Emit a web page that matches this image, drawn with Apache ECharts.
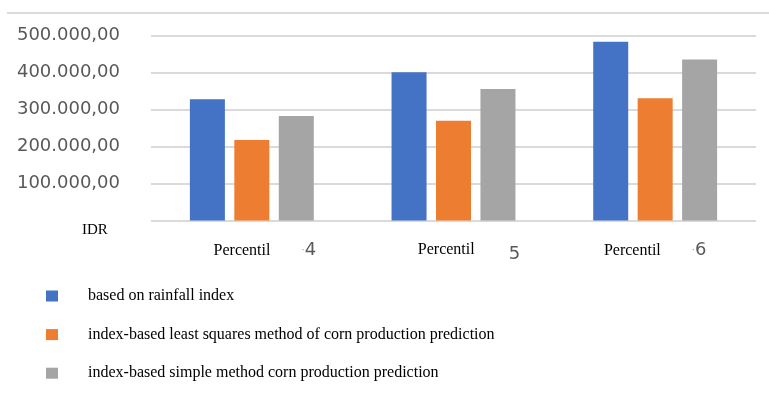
<!DOCTYPE html>
<html>
<head>
<meta charset="utf-8">
<script src="https://cdn.jsdelivr.net/npm/echarts@6/dist/echarts.min.js"></script>
<style>
  html, body { margin: 0; padding: 0; background: #fff; }
  #chart { width: 769px; height: 394px; }
</style>
</head>
<body>
<div id="chart"></div>
<script>
// Percentile groups on the x axis
const categories = ['Percentil 4', 'Percentil 5', 'Percentil 6'];

// Premium values (IDR) per calculation method
const rainfallIndex = [328000, 401000, 484000];
const leastSquaresIndex = [218000, 270000, 331000];
const simpleMethodIndex = [283000, 356000, 436000];

const seriesNames = [
  'based on rainfall index',
  'index-based least squares method of corn production prediction',
  'index-based simple method corn production prediction'
];

// Indonesian number format: 500.000,00
function idr(v) {
  const parts = Math.round(v).toString().replace(/\B(?=(\d{3})+(?!\d))/g, '.');
  return parts + ',00';
}

const chart = echarts.init(document.getElementById('chart'), null, { renderer: 'canvas' });

const serif = "'Liberation Serif', 'Times New Roman', serif";
const sans = "'DejaVu Sans', sans-serif";

chart.setOption({
  animation: false,
  color: ['#4472C4', '#ED7D31', '#A5A5A5'],
  grid: { left: 151, right: 13, top: 35.75, bottom: 173.5, containLabel: false },
  legend: {
    orient: 'vertical',
    left: 46,
    top: 288,
    padding: 0,
    icon: 'rect',
    itemWidth: 12,
    itemHeight: 11,
    itemGap: 22.6,
    data: seriesNames,
    formatter: name => '{g|}{t|' + name + '}',
    textStyle: {
      rich: {
        g: { width: 25 },
        t: { fontFamily: serif, fontSize: 16, color: '#000', lineHeight: 17 }
      }
    }
  },
  xAxis: {
    type: 'category',
    data: categories,
    axisLine: { show: false },
    axisTick: { show: false },
    axisLabel: {
      margin: 21,
      interval: 0,
      formatter: (value, idx) => {
        const num = value.split(' ')[1];
        const dot = idx === 1 ? '' : '{d|·}';
        return '{p' + idx + '|Percentil}' + dot + '{n' + idx + '|' + num + '}';
      },
      rich: {
        p0: { fontFamily: serif, fontSize: 16, color: '#000', padding: [0, 0, 0, 26] },
        p1: { fontFamily: serif, fontSize: 16, color: '#000', padding: [0, 0, 10, 31] },
        p2: { fontFamily: serif, fontSize: 16, color: '#000', padding: [0, 0, 0, 0] },
        d: { fontFamily: sans, fontSize: 10, color: '#9a9a9a', padding: [0, 0, 0, 31] },
        n0: { fontFamily: sans, fontSize: 18, color: '#595959' },
        n1: { fontFamily: sans, fontSize: 18, color: '#595959', padding: [0, 0, 0, 34] },
        n2: { fontFamily: sans, fontSize: 18, color: '#595959' }
      }
    }
  },
  yAxis: {
    type: 'value',
    min: 0,
    max: 500000,
    interval: 100000,
    axisLine: { show: false },
    axisTick: { show: false },
    splitLine: { lineStyle: { color: '#dadada', width: 2 } },
    axisLabel: {
      margin: 31,
      fontFamily: sans,
      fontSize: 18,
      color: '#595959',
      formatter: v => (v === 0 ? '' : idr(v))
    }
  },
  graphic: [
    {
      type: 'line',
      shape: { x1: 7, y1: 13, x2: 769, y2: 13 },
      style: { stroke: '#dadada', lineWidth: 2 },
      silent: true
    },
    {
      type: 'text',
      left: 82,
      top: 223,
      style: { text: 'IDR', font: "15px 'Liberation Serif', serif", fill: '#000' },
      silent: true
    }
  ],
  series: [
    { name: seriesNames[0], type: 'bar', data: rainfallIndex, barWidth: 35, barGap: '27%' },
    { name: seriesNames[1], type: 'bar', data: leastSquaresIndex, barWidth: 35, barGap: '27%' },
    { name: seriesNames[2], type: 'bar', data: simpleMethodIndex, barWidth: 35, barGap: '27%' }
  ]
});
</script>
</body>
</html>
